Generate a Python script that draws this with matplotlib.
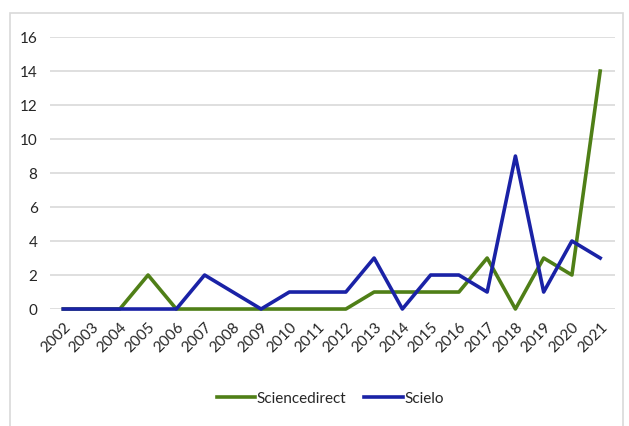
import matplotlib
matplotlib.use("Agg")
import matplotlib.pyplot as plt
from matplotlib.patches import Rectangle

years = [str(y) for y in range(2002, 2022)]
sciencedirect = [0, 0, 0, 2, 0, 0, 0, 0, 0, 0, 0, 1, 1, 1, 1, 3, 0, 3, 2, 14]
scielo = [0, 0, 0, 0, 0, 2, 1, 0, 1, 1, 1, 3, 0, 2, 2, 1, 9, 1, 4, 3]
yticks = [0, 2, 4, 6, 8, 10, 12, 14, 16]

plt.rcParams['font.family'] = ['Lato', 'DejaVu Sans']

fig = plt.figure(figsize=(6.29, 4.26), dpi=100)
fig.patches.append(Rectangle((0.016, -0.01), 0.975, 0.979, transform=fig.transFigure,
                             fill=False, edgecolor="#d9d9d9", linewidth=1.2))

ax = fig.add_axes([0.0795, 0.2746, 0.8985, 0.6384])
x = range(len(years))
ax.plot(x, sciencedirect, color="#4f7f17", lw=2.6, label="Sciencedirect", clip_on=False)
ax.plot(x, scielo, color="#1a22a6", lw=2.6, label="Scielo", clip_on=False)

ax.set_ylim(0, 16)
ax.set_xlim(-0.47, 19.53)
ax.set_yticks(yticks)
ax.set_xticks(list(x))
ax.set_xticklabels(years, rotation=45, ha="right", va="top", rotation_mode="anchor")
ax.tick_params(length=0, labelsize=11, colors="#262626")
ax.tick_params(axis="x", pad=8)
ax.tick_params(axis="y", pad=9)
ax.grid(axis="y", color="#d9d9d9", lw=1.2)
ax.set_axisbelow(True)
for s in ax.spines.values():
    s.set_visible(False)

fig.legend(loc="center", bbox_to_anchor=(0.525, 0.064), ncol=2, frameon=False,
           fontsize=11, handlelength=2.5, handletextpad=0.1, columnspacing=1.2,
           labelcolor="#262626")

fig.savefig("out.png", dpi=100)
